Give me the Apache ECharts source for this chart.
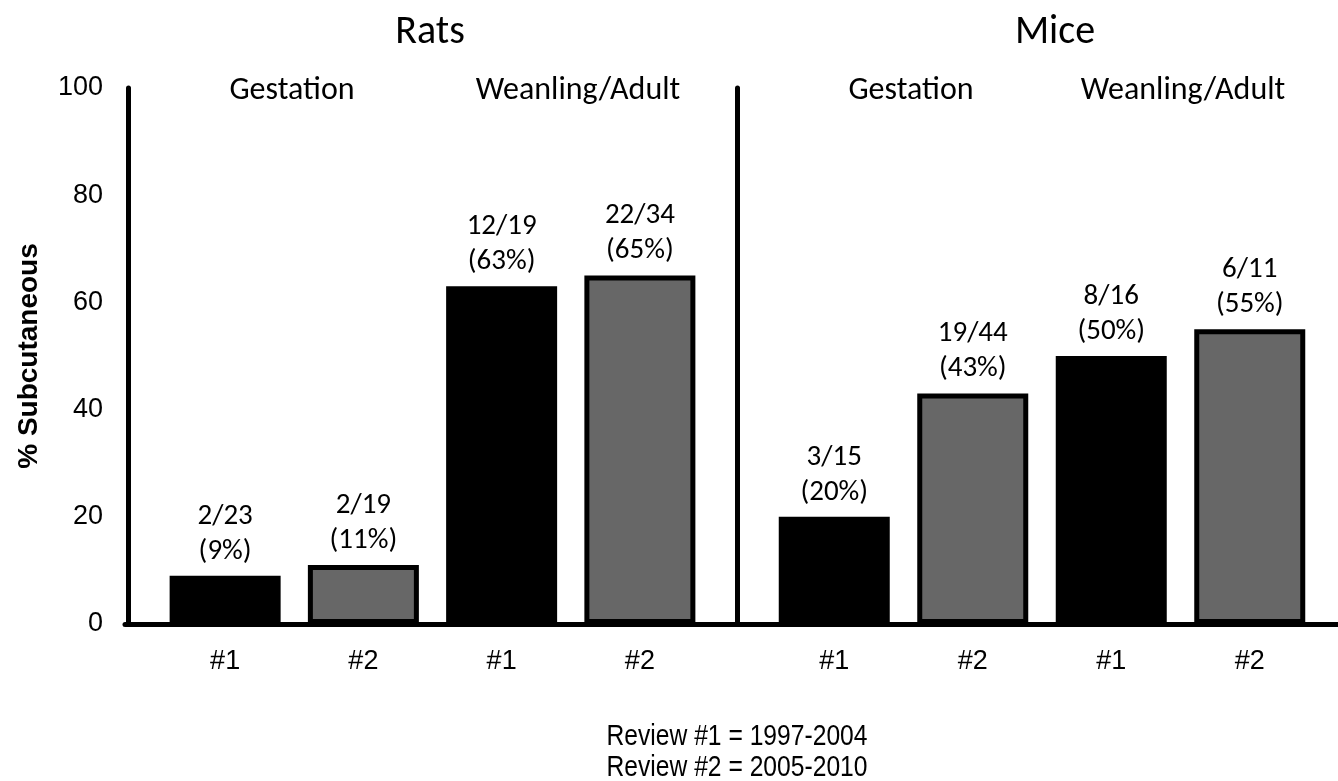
<!DOCTYPE html>
<html>
<head>
<meta charset="utf-8">
<script src="https://cdn.jsdelivr.net/npm/echarts@6/dist/echarts.min.js"></script>
<style>html,body{margin:0;padding:0;background:#fff}#c{width:1338px;height:781px}</style>
</head>
<body>
<div id="c"></div>
<script>
// ---- data ----
var reviewLabels = ['#1', '#2', '#1', '#2'];
var ratsPct = [9, 11, 63, 65];
var ratsCounts = ['2/23', '2/19', '12/19', '22/34'];
var micePct = [20, 43, 50, 55];
var miceCounts = ['3/15', '19/44', '8/16', '6/11'];
var yTicks = [0, 20, 40, 60, 80, 100];
var panelTitles = ['Rats', 'Mice'];
var stageLabels = ['Gestation', 'Weanling/Adult'];
var footnote = ['Review #1 = 1997-2004', 'Review #2 = 2005-2010'];

var reviewColors = {'#1': '#000000', '#2': '#676767'};
var calibriLike = "Carlito, Calibri, 'Open Sans', sans-serif";
var arial = "'Liberation Sans', Arial, sans-serif";

function mkData(vals, counts) {
  return vals.map(function (v, i) {
    return {
      value: v,
      count: counts[i],
      itemStyle: {color: reviewColors[reviewLabels[i]]}
    };
  });
}

var chart = echarts.init(document.getElementById('c'));
var GT = 88, GH = 536;

var barSeries = function (idx, vals, counts) {
  return {
    type: 'bar',
    xAxisIndex: idx, yAxisIndex: idx,
    barWidth: 111,
    data: mkData(vals, counts),
    itemStyle: {borderColor: '#000', borderWidth: 5},
    label: {
      show: true, position: 'top', distance: 7,
      fontFamily: calibriLike, fontSize: 29, lineHeight: 35, color: '#000',
      formatter: function (p) { return p.data.count + '\n(' + p.value + '%)'; }
    },
    silent: true, animation: false
  };
};

var catAxis = function (gi) {
  return {
    gridIndex: gi, type: 'category', data: reviewLabels,
    axisLine: {show: false}, axisTick: {show: false},
    axisLabel: {fontFamily: arial, fontSize: 27, color: '#000', margin: 24}
  };
};

function txt(x, y, s, font, sx) {
  return {type: 'text', x: x, y: y, scaleX: sx || 1,
    style: {text: s, font: font, textAlign: 'center', textVerticalAlign: 'middle', fill: '#000'}};
}

chart.setOption({
  animation: false,
  grid: [
    {left: 156, width: 553, top: GT, height: GH},
    {left: 765, width: 554, top: GT, height: GH},
    {left: 125, right: 0, top: GT, height: GH}
  ],
  xAxis: [
    catAxis(0),
    catAxis(1),
    {gridIndex: 2, type: 'value', min: 0, max: 1,
     axisLine: {show: true, lineStyle: {color: '#000', width: 5}},
     axisTick: {show: false}, axisLabel: {show: false}, splitLine: {show: false}}
  ],
  yAxis: [
    {gridIndex: 0, type: 'value', min: 0, max: 100, interval: 20, offset: 28,
     axisLine: {show: true, lineStyle: {color: '#000', width: 5}},
     axisTick: {show: false}, splitLine: {show: false},
     axisLabel: {fontFamily: arial, fontSize: 27, color: '#000', margin: 25},
     name: '% Subcutaneous', nameLocation: 'middle', nameGap: 85, nameRotate: 90,
     nameTextStyle: {fontFamily: arial, fontSize: 28, fontWeight: 'bold', color: '#000'}},
    {gridIndex: 1, type: 'value', min: 0, max: 100, interval: 20, offset: 27.5,
     axisLine: {show: true, lineStyle: {color: '#000', width: 5}},
     axisTick: {show: false}, splitLine: {show: false}, axisLabel: {show: false}},
    {gridIndex: 2, type: 'value', min: 0, max: 100, show: false}
  ],
  series: [
    barSeries(0, ratsPct, ratsCounts),
    barSeries(1, micePct, miceCounts)
  ],
  graphic: [
    txt(430, 33, panelTitles[0], "40px " + calibriLike),
    txt(1055, 33, panelTitles[1], "40px " + calibriLike),
    txt(292, 91, stageLabels[0], "32px " + calibriLike),
    txt(578, 91, stageLabels[1], "32px " + calibriLike),
    txt(911, 91, stageLabels[0], "32px " + calibriLike),
    txt(1183, 91, stageLabels[1], "32px " + calibriLike),
    txt(737, 737, footnote[0], "29px " + arial, 0.85),
    txt(737, 768, footnote[1], "29px " + arial, 0.85)
  ]
});
</script>
</body>
</html>
